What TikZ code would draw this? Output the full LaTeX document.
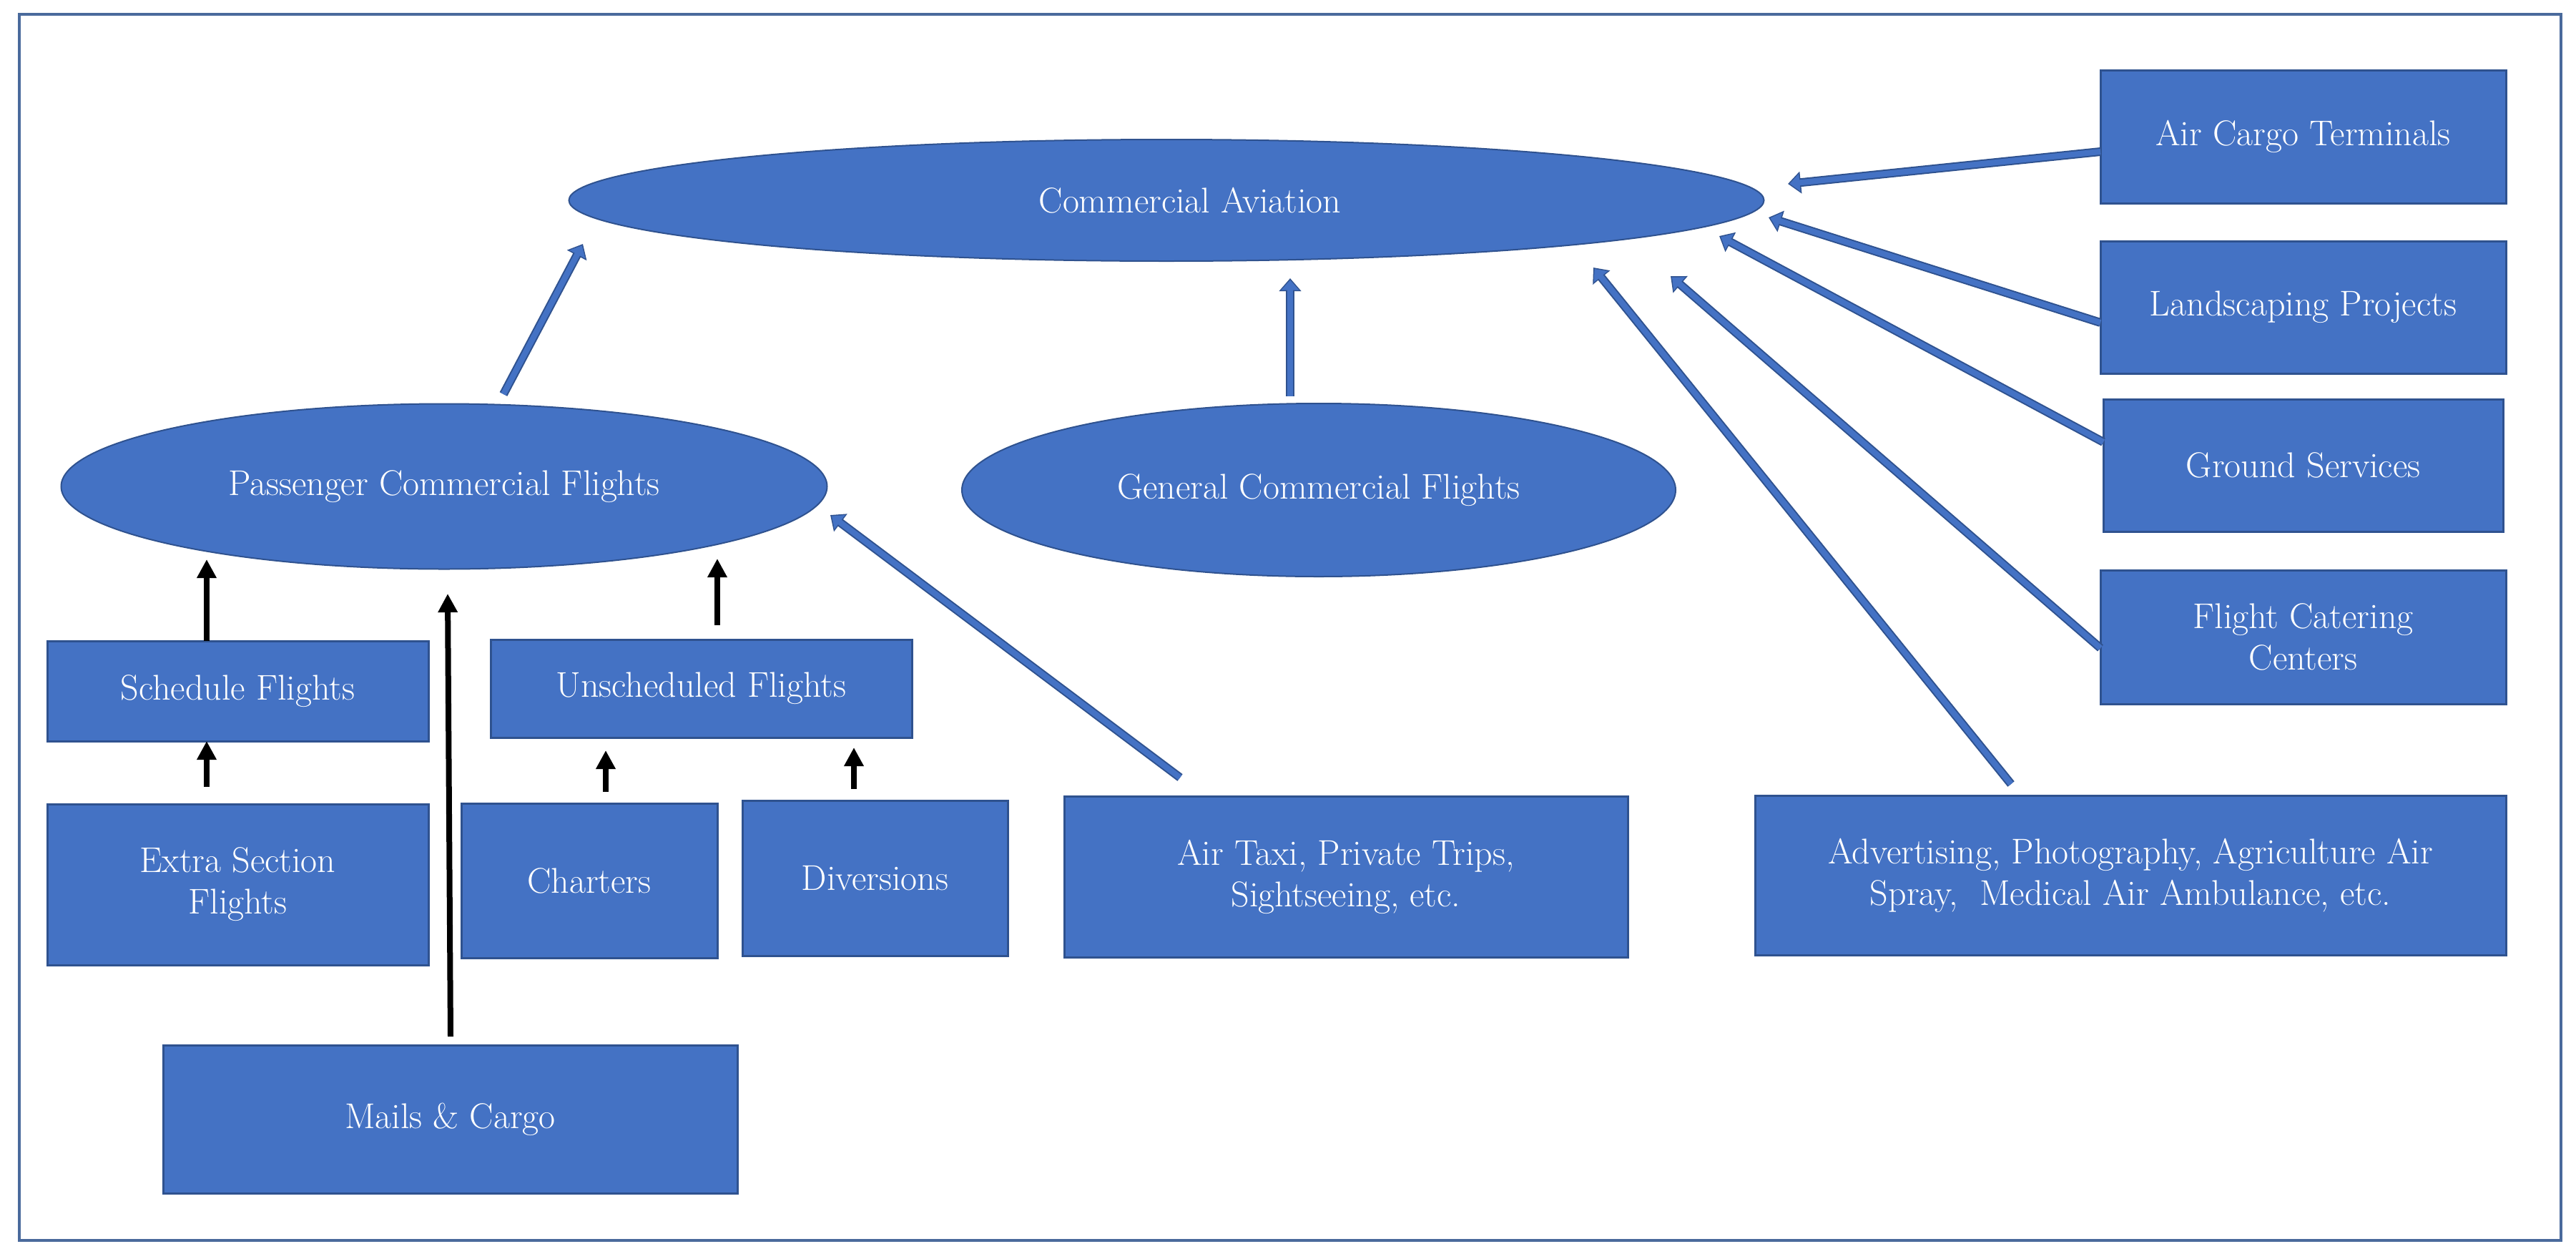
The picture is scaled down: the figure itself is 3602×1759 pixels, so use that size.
\documentclass[tikz,border=0pt]{standalone}
\usetikzlibrary{shapes.geometric,arrows.meta,calc}
\definecolor{boxfill}{HTML}{4472C4}
\definecolor{boxline}{HTML}{2F528F}
\definecolor{frameblue}{HTML}{4A6A9C}
\begin{document}
\begin{tikzpicture}[x=1pt,y=-1pt,
  font=\fontsize{50}{58}\selectfont,
  box/.style={rectangle, fill=boxfill, draw=boxline, line width=3pt, text=white, align=center, inner sep=0pt},
  oval/.style={ellipse, fill=boxfill, draw=boxline, line width=2pt, text=white, inner sep=0pt},
  barrow/.style={preaction={draw=boxline, line width=12pt, shorten >=0pt, -{Triangle[length=18pt,width=30pt]}},
                 draw=boxfill, line width=8pt, shorten >=2.5pt, -{Triangle[length=14pt,width=24pt]}},
  karrow/.style={line width=8pt, draw=black, -{Triangle[length=26pt,width=26pt]}}]
\useasboundingbox (0,0) rectangle (3602,1759);
\draw[frameblue, line width=4.5pt] (27,20) rectangle (3581,1734);

% ellipses
\node[oval, minimum width=1671pt, minimum height=170pt,
  label={[text=white, xshift=33pt]center:Commercial Aviation}] (ca) at (1631,280) {};
\node[oval, minimum width=1071pt, minimum height=231pt] (pass) at (621,680) {Passenger Commercial Flights};
\node[oval, minimum width=998pt, minimum height=242pt] (gen) at (1844,685) {General Commercial Flights};

% boxes
\node[box, minimum width=533pt, minimum height=140pt] (sched) at (332.5,966) {Schedule Flights};
\node[box, minimum width=589pt, minimum height=137pt] (unsched) at (980.5,962.5) {Unscheduled Flights};
\node[box, minimum width=533pt, minimum height=225pt] (extra) at (332.5,1236.5) {Extra Section\\Flights};
\node[box, minimum width=358pt, minimum height=216pt] (charters) at (824,1231) {Charters};
\node[box, minimum width=371pt, minimum height=217pt] (divers) at (1223.5,1227.5) {Diversions};
\node[box, minimum width=803pt, minimum height=207pt] (mails) at (629.5,1564.5) {Mails \& Cargo};
\node[box, minimum width=788pt, minimum height=225pt] (taxi) at (1882,1225.5) {Air Taxi, Private Trips,\\Sightseeing, etc.};
\node[box, minimum width=1050pt, minimum height=223pt] (adv) at (2979,1223.5) {Advertising, Photography, Agriculture Air\\Spray,~ Medical Air Ambulance, etc.};
\node[box, minimum width=567pt, minimum height=186pt] (cargo) at (3220.5,191) {Air Cargo Terminals};
\node[box, minimum width=567pt, minimum height=185pt] (land) at (3220.5,429.5) {Landscaping Projects};
\node[box, minimum width=559pt, minimum height=185pt] (ground) at (3220.5,650.5) {Ground Services};
\node[box, minimum width=567pt, minimum height=187pt] (cater) at (3220.5,890.5) {Flight Catering\\Centers};

% blue connectors
\draw[barrow] ($(pass.center)+(83,-129)$) -- ($(ca.center)+(-816,61)$);
\draw[barrow] ($(gen.center)+(-40,-131)$) -- ($(ca.center)+(173,109)$);
\draw[barrow] ($(taxi.center)+(-232,-138.5)$) -- ($(pass.center)+(540,40)$);
\draw[barrow] ($(adv.center)+(-167,-127.5)$) -- ($(ca.center)+(597,94)$);
\draw[barrow] ($(cater.center)+(-283.5,15.5)$) -- ($(ca.center)+(705,106)$);
\draw[barrow] ($(ground.center)+(-279.5,-32.5)$) -- ($(ca.center)+(773,50)$);
\draw[barrow] ($(land.center)+(-283.5,21.5)$) -- ($(ca.center)+(842,24)$);
\draw[barrow] ($(cargo.center)+(-283.5,21)$) -- ($(ca.center)+(869,-23)$);

% black connectors
\draw[karrow] ($(sched.center)+(-43.5,-70)$) -- ($(pass.center)+(-332,102)$);
\draw[karrow] ($(extra.center)+(-43.5,-136.5)$) -- ($(sched.center)+(-43.5,70)$);
\draw[karrow] ($(mails.center)+(0.5,-115.5)$) -- ($(pass.center)+(5,150)$);
\draw[karrow] ($(unsched.center)+(22.5,-88.5)$) -- ($(pass.center)+(382,101)$);
\draw[karrow] ($(charters.center)+(23,-124)$) -- ($(unsched.center)+(-133.5,86.5)$);
\draw[karrow] ($(divers.center)+(-29.5,-124.5)$) -- ($(unsched.center)+(213.5,82.5)$);
\end{tikzpicture}
\end{document}
